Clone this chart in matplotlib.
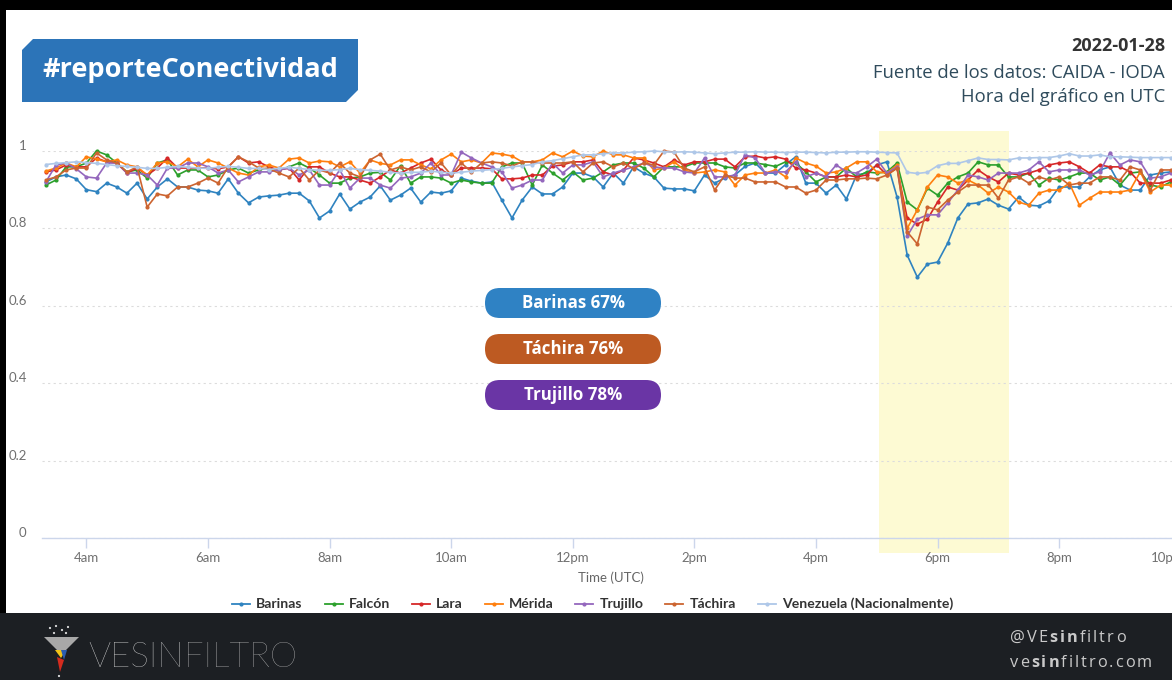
import matplotlib
matplotlib.use('Agg')
import matplotlib.pyplot as plt
from matplotlib.patches import Polygon, Rectangle, FancyBboxPatch, Circle
from matplotlib.lines import Line2D
from matplotlib.transforms import ScaledTranslation
import numpy as np

# ---------------- data ----------------
START_HOUR = 3 + 20 / 60      # first sample 03:20 UTC
STEP_MIN = 10                 # one sample every 10 minutes

barinas = [0.92,0.933,0.938,0.928,0.90,0.895,0.917,0.907,0.891,0.917,
           0.876,0.907,0.928,0.907,0.907,0.899,0.897,0.891,0.928,0.891,
           0.866,0.881,0.884,0.886,0.891,0.891,0.871,0.827,0.845,0.889,
           0.85,0.868,0.881,0.91,0.873,0.886,0.904,0.868,0.894,0.891,
           0.897,0.93,0.922,0.917,0.92,0.873,0.827,0.873,0.907,0.889,
           0.889,0.907,0.943,0.943,0.933,0.907,0.943,0.917,0.959,0.943,
           0.933,0.904,0.902,0.902,0.897,0.938,0.917,0.93,0.938,0.96,
           0.969,0.943,0.943,0.965,0.985,0.917,0.917,0.891,0.912,0.876,
           0.938,0.943,0.964,0.972,0.881,0.731,0.674,0.708,0.713,0.762,
           0.827,0.863,0.866,0.876,0.86,0.85,0.881,0.86,0.858,0.871,
           0.907,0.907,0.907,0.933,0.951,0.959,0.912,0.899,0.899,0.938,0.943,0.946]
falcon = [0.912,0.925,0.959,0.959,0.969,1.0,0.99,0.969,0.946,0.951,
          0.93,0.969,0.977,0.938,0.951,0.951,0.933,0.938,0.951,0.956,
          0.943,0.951,0.956,0.951,0.959,0.969,0.956,0.938,0.917,0.917,
          0.93,0.933,0.943,0.945,0.925,0.962,0.917,0.933,0.933,0.93,
          0.917,0.925,0.92,0.917,0.917,0.959,0.969,0.969,0.912,0.964,
          0.943,0.925,0.946,0.925,0.93,0.946,0.964,0.969,0.969,0.956,
          0.933,0.959,0.959,0.959,0.969,0.969,0.969,0.959,0.956,0.969,
          0.969,0.965,0.96,0.972,0.969,0.946,0.92,0.933,0.933,0.956,
          0.933,0.946,0.943,0.946,0.969,0.868,0.848,0.904,0.886,0.917,
          0.933,0.943,0.972,0.964,0.964,0.933,0.933,0.943,0.912,0.93,
          0.925,0.933,0.943,0.943,0.925,0.933,0.912,0.943,0.946,0.912,0.907,0.92]
lara = [0.946,0.951,0.964,0.959,0.959,0.982,0.972,0.969,0.943,0.956,
        0.938,0.956,0.982,0.956,0.956,0.956,0.956,0.954,0.959,0.985,
        0.969,0.972,0.959,0.951,0.956,0.925,0.959,0.959,0.943,0.933,
        0.933,0.925,0.917,0.933,0.951,0.943,0.956,0.969,0.979,0.951,
        0.938,0.956,0.956,0.956,0.954,0.928,0.928,0.93,0.938,0.938,
        0.961,0.964,0.972,0.972,0.977,0.946,0.938,0.951,0.982,0.977,
        0.969,0.959,0.977,0.964,0.972,0.972,0.979,0.979,0.959,0.985,
        0.987,0.982,0.985,0.979,0.956,0.951,0.943,0.933,0.933,0.938,
        0.933,0.938,0.964,0.938,0.956,0.827,0.811,0.824,0.868,0.907,
        0.899,0.925,0.951,0.933,0.92,0.943,0.938,0.943,0.951,0.964,
        0.969,0.972,0.959,0.943,0.964,0.959,0.959,0.946,0.917,0.917,0.917,0.925]
merida = [0.948,0.956,0.969,0.959,0.985,0.979,0.972,0.977,0.964,0.959,
          0.938,0.969,0.972,0.959,0.979,0.959,0.977,0.969,0.956,0.943,
          0.938,0.959,0.964,0.956,0.979,0.982,0.969,0.974,0.972,0.959,
          0.972,0.943,0.977,0.968,0.964,0.977,0.977,0.964,0.954,0.977,
          0.992,0.972,0.977,0.969,0.995,0.992,0.987,0.972,0.972,0.977,
          0.995,0.985,1.0,0.987,0.985,1.0,0.99,0.99,0.982,0.982,
          0.951,0.956,0.972,0.951,0.943,0.946,0.951,0.946,0.912,0.938,
          0.943,0.943,0.951,0.933,0.982,0.969,0.961,0.943,0.946,0.956,
          0.972,0.972,0.946,0.943,0.964,0.80,0.848,0.907,0.938,0.933,
          0.917,0.925,0.912,0.891,0.907,0.894,0.868,0.86,0.891,0.899,
          0.899,0.917,0.86,0.878,0.894,0.894,0.894,0.899,0.946,0.894,0.912,0.912]
trujillo = [0.92,0.964,0.969,0.954,0.933,0.93,0.969,0.969,0.943,0.943,
            0.938,0.912,0.956,0.956,0.969,0.969,0.959,0.943,0.951,0.92,
            0.933,0.946,0.946,0.951,0.956,0.938,0.951,0.912,0.912,0.951,
            0.904,0.93,0.93,0.912,0.904,0.93,0.933,0.943,0.969,0.938,
            0.938,0.997,0.982,0.969,0.959,0.946,0.904,0.912,0.925,0.925,
            0.969,0.943,0.964,0.964,0.972,0.933,0.943,0.951,0.959,0.969,
            0.959,0.956,0.956,0.946,0.943,0.982,0.933,0.933,0.938,0.99,
            0.982,0.943,0.946,0.946,0.972,0.933,0.943,0.933,0.964,0.946,
            0.943,0.959,0.979,0.943,0.959,0.78,0.824,0.835,0.835,0.866,
            0.899,0.938,0.933,0.925,0.943,0.943,0.943,0.951,0.972,0.946,
            0.951,0.951,0.951,0.938,0.946,0.995,0.964,0.977,0.972,0.93,0.933,0.943]
tachira = [0.925,0.933,0.951,0.956,0.956,0.995,0.977,0.969,0.946,0.959,
           0.855,0.889,0.884,0.907,0.907,0.917,0.93,0.917,0.959,0.985,
           0.972,0.956,0.954,0.943,0.933,0.956,0.925,0.951,0.943,0.969,
           0.943,0.933,0.977,0.992,0.951,0.959,0.951,0.959,0.946,0.969,
           0.938,0.969,0.946,0.969,0.972,0.969,0.961,0.972,0.972,0.969,
           0.969,0.969,0.972,0.946,0.969,0.972,0.959,0.969,0.954,0.969,
           0.964,1.0,0.997,0.956,0.946,0.959,0.899,0.938,0.93,0.93,
           0.92,0.92,0.92,0.907,0.907,0.891,0.899,0.925,0.925,0.928,
           0.928,0.93,0.928,0.938,0.956,0.791,0.76,0.855,0.848,0.873,
           0.894,0.912,0.912,0.912,0.878,0.925,0.933,0.917,0.933,0.925,
           0.933,0.912,0.917,0.917,0.933,0.933,0.925,0.959,0.951,0.899,0.951,0.951]
venezuela = [0.965,0.968,0.97,0.972,0.97,0.968,0.965,0.962,0.96,0.958,
             0.955,0.955,0.958,0.96,0.958,0.956,0.955,0.958,0.96,0.958,
             0.955,0.955,0.952,0.955,0.958,0.955,0.952,0.95,0.95,0.952,
             0.955,0.952,0.95,0.948,0.945,0.943,0.945,0.945,0.948,0.945,
             0.943,0.945,0.948,0.95,0.952,0.955,0.959,0.962,0.965,0.972,
             0.975,0.98,0.985,0.99,0.99,0.993,0.995,0.995,0.997,0.998,
             1.0,0.998,0.997,0.998,0.997,0.995,0.993,0.995,0.997,0.997,
             0.998,0.997,0.997,0.996,0.997,0.997,0.996,0.995,0.997,0.997,
             0.998,0.998,0.997,0.996,0.995,0.945,0.942,0.945,0.962,0.968,
             0.968,0.975,0.982,0.978,0.978,0.977,0.982,0.982,0.983,0.983,
             0.987,0.993,0.987,0.987,0.99,0.985,0.985,0.984,0.983,0.983,0.983,0.983]

series_names = ["Barinas", "Falcón", "Lara", "Mérida", "Trujillo", "Táchira",
                "Venezuela (Nacionalmente)"]
series_values = [barinas, falcon, lara, merida, trujillo, tachira, venezuela]
series_colors = ["#2f83c0", "#2ca02c", "#d62728", "#ff7f0e", "#9467bd",
                 "#cc6430", "#aec7e8"]

tick_hours = [4, 6, 8, 10, 12, 14, 16, 18, 20, 22]
tick_labels = ["4am", "6am", "8am", "10am", "12pm", "2pm", "4pm", "6pm", "8pm", "10pm"]
y_ticks = [0, 0.2, 0.4, 0.6, 0.8, 1.0]
y_tick_labels = ["0", "0.2", "0.4", "0.6", "0.8", "1"]

highlight_hours = (17.03, 19.17)

badge_texts = ["Barinas 67%", "Táchira 76%", "Trujillo 78%"]
badge_colors = ["#2f82c4", "#bd5a22", "#6a35a5"]

# ---------------- figure ----------------
W, H = 1172, 680
fig = plt.figure(figsize=(W / 100, H / 100), dpi=100)
fig.patch.set_facecolor('black')
renderer = fig.canvas.get_renderer()

def overlay(z):
    a = fig.add_axes([0, 0, 1, 1], zorder=z)
    a.set_xlim(0, W)
    a.set_ylim(H, 0)
    a.axis('off')
    a.patch.set_alpha(0)
    return a

bg = overlay(0)
bg.add_patch(Rectangle((6, 10), W - 6, 603, facecolor='white', edgecolor='none'))
bg.add_patch(Rectangle((0, 613), W, 67, facecolor='#1c1f23', edgecolor='none'))

# main plot axes (right edge runs past the image like the reference)
PX_L, PX_R, PX_TOP, PX_BOT = 42, 1211, 151, 538
ax = fig.add_axes([PX_L / W, (H - PX_BOT) / H, (PX_R - PX_L) / W, (PX_BOT - PX_TOP) / H],
                  zorder=1)
ax.patch.set_alpha(0)
x_left = 3.27
x_right = x_left + (PX_R - PX_L) / 60.8
ax.set_xlim(x_left, x_right)
ax.set_ylim(0, 1)

# highlight band (extends a bit above and below the plot)
ax.axvspan(highlight_hours[0], highlight_hours[1], ymin=-0.039, ymax=1.052,
           color='#fdfad3', zorder=0, clip_on=False, lw=0)

hours = START_HOUR + np.arange(len(barinas)) * STEP_MIN / 60.0
for name, vals, col in zip(series_names, series_values, series_colors):
    ax.plot(hours, vals, color=col, lw=1.2, marker='o', ms=2.0,
            zorder=3, clip_on=False, label=name)

for s in ['top', 'right', 'left']:
    ax.spines[s].set_visible(False)
ax.spines['bottom'].set_color('#ccd6eb')
ax.spines['bottom'].set_linewidth(1.0)

ax.set_xticks(tick_hours)
ax.set_xticklabels(tick_labels, fontfamily='Lato')
ax.tick_params(axis='x', direction='out', length=7, width=1, color='#ccd6eb',
               labelcolor='#707070', labelsize=9.5, pad=3)
# the last label is pushed inward (edge-justified), as in the reference
last = ax.get_xticklabels()[-1]
last.set_transform(last.get_transform() + ScaledTranslation(-13 / 100, 0, fig.dpi_scale_trans))

ax.set_yticks(y_ticks)
ax.set_yticklabels(y_tick_labels, fontfamily='Lato')
ax.tick_params(axis='y', length=0, labelcolor='#707070', labelsize=9.5, pad=11)
for lab in ax.get_yticklabels():
    lab.set_transform(lab.get_transform() + ScaledTranslation(0, 6 / 100, fig.dpi_scale_trans))
ax.yaxis.grid(True, color='#dcdcdc', linestyle=(0, (2, 3)), lw=0.8)
ax.set_axisbelow(True)

fg = overlay(2)

# x-axis title
fg.text(611, 578, "Time (UTC)", ha='center', va='center', color='#666666',
        fontsize=9.5, fontfamily='Lato')

# legend (manual, single row)
lx = 232
for name, col in zip(series_names, series_colors):
    fg.add_line(Line2D([lx, lx + 18], [604, 604], color=col, lw=1.3))
    fg.add_line(Line2D([lx + 9], [604], color=col, marker='o', ms=2.0))
    t = fg.text(lx + 24, 604, name, ha='left', va='center', color='#333333',
                fontsize=10.1, fontfamily='Lato', fontweight='bold')
    bb = t.get_window_extent(renderer)
    lx = lx + 24 + bb.width + 22

# header banner
fg.add_patch(Polygon([(22, 50), (33, 39), (358, 39), (358, 90), (346, 102), (22, 102)],
                     closed=True, facecolor='#2c74b8', edgecolor='none'))
fg.text(42, 70, "#reporteConectividad", ha='left', va='center', color='white',
        fontsize=19.5, fontfamily='Open Sans', fontweight='bold')

# top-right notes
fg.text(1165, 46, "2022-01-28", ha='right', va='center', color='#333333',
        fontsize=13, fontfamily='Open Sans', fontweight='bold')
fg.text(1165, 73, "Fuente de los datos: CAIDA - IODA", ha='right', va='center',
        color='#2f4b5c', fontsize=13.3, fontfamily='Open Sans')
fg.text(1165, 97, "Hora del gráfico en UTC", ha='right', va='center',
        color='#2f4b5c', fontsize=13.3, fontfamily='Open Sans')

# badges
for k, (txt, col) in enumerate(zip(badge_texts, badge_colors)):
    cy = 303 + 46 * k
    fg.add_patch(FancyBboxPatch((485, cy - 15), 176, 30,
                                boxstyle='round,pad=0,rounding_size=15',
                                facecolor=col, edgecolor='none'))
    fg.text(573, cy, txt, ha='center', va='center', color='white',
            fontsize=12.2, fontfamily='Open Sans', fontweight='bold')

# footer logo (funnel icon)
fg.add_patch(Polygon([(44, 637), (79, 637), (64, 652), (59, 652)], closed=True,
                     facecolor='#a8a8a8', edgecolor='none'))
fg.add_patch(Polygon([(55, 650), (66, 650), (61, 658)], closed=True,
                     facecolor='#f2c318', edgecolor='none'))
fg.add_patch(Polygon([(61, 650), (67, 650), (64, 660)], closed=True,
                     facecolor='#2a5db0', edgecolor='none'))
fg.add_patch(Polygon([(57, 657), (64, 660), (60, 672)], closed=True,
                     facecolor='#d52b1e', edgecolor='none'))
for (dx, dy) in [(50, 628), (56, 626), (62, 630), (68, 627), (54, 633), (66, 633), (59, 676)]:
    fg.add_patch(Circle((dx, dy), 1.1, facecolor='#dddddd', edgecolor='none'))

def chain(axo, x, y, parts, spacing=0.0, **kw):
    for s, props in parts:
        pieces = list(s) if spacing else [s]
        for ch in pieces:
            t = axo.text(x, y, ch, ha='left', va='baseline', **kw, **props)
            x += t.get_window_extent(renderer).width + spacing
    return x

chain(fg, 88, 667, [("VESIN", dict(color='#ececec')), ("FILTRO", dict(color='#bdbdbd'))],
      fontsize=25, fontfamily='Lato', fontweight='light')

chain(fg, 1010, 642, [("@VE", dict(fontweight='normal')), ("sin", dict(fontweight='bold')),
                      ("filtro", dict(fontweight='normal'))],
      spacing=2.0, fontsize=11.8, fontfamily='Open Sans', color='#c9c9c9')
chain(fg, 1010, 667, [("ve", dict(fontweight='normal')), ("sin", dict(fontweight='bold')),
                      ("filtro.com", dict(fontweight='normal'))],
      spacing=2.0, fontsize=11.8, fontfamily='Open Sans', color='#c9c9c9')

fig.savefig('out.png', dpi=100, facecolor=fig.get_facecolor())
